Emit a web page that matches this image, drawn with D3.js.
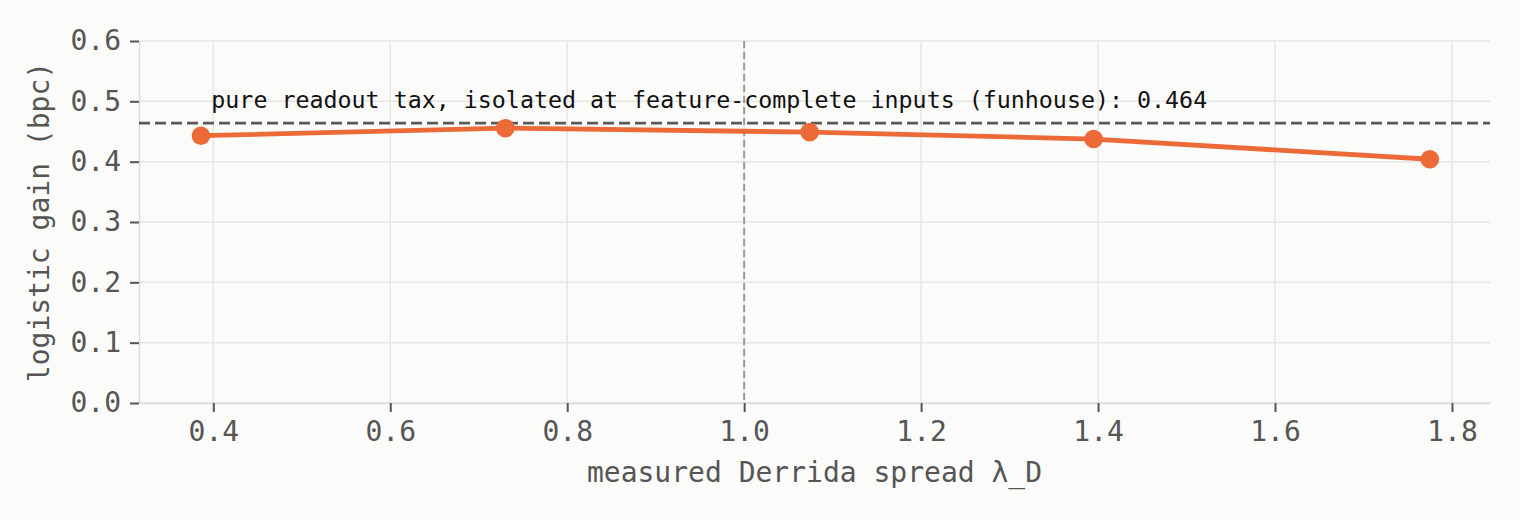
<!DOCTYPE html>
<html>
<head>
<meta charset="utf-8">
<script src="https://cdn.jsdelivr.net/npm/d3@7"></script>
<style>
  html, body { margin: 0; padding: 0; background: #fbfbf9; }
  svg { display: block; font-family: "DejaVu Sans Mono", monospace; }
</style>
</head>
<body>
<div id="chart"></div>
<script>
// data
var spread = [0.386, 0.730, 1.074, 1.395, 1.775];
var gain = [0.443, 0.4555, 0.449, 0.4375, 0.404];
var readoutTax = 0.464;
var criticalSpread = 1.0;
var xTicks = [0.4, 0.6, 0.8, 1.0, 1.2, 1.4, 1.6, 1.8];
var yTicks = [0.0, 0.1, 0.2, 0.3, 0.4, 0.5, 0.6];
var annotationText = "pure readout tax, isolated at feature-complete inputs (funhouse): 0.464";

// svg container
var svgWidth = 1520;
var svgHeight = 520;

var margin = { top: 41, right: 30, bottom: 117, left: 139 };

var chartWidth = svgWidth - margin.left - margin.right;
var chartHeight = svgHeight - margin.top - margin.bottom;

var svg = d3.select("#chart")
            .append("svg")
            .attr("width", svgWidth)
            .attr("height", svgHeight);

svg.append("rect")
   .attr("width", svgWidth)
   .attr("height", svgHeight)
   .attr("fill", "#fbfbf9");

var chartGroup = svg.append("g")
                    .attr("transform", `translate(${margin.left}, ${margin.top})`);

// scales
var xScale = d3.scaleLinear()
               .domain([0.316, 1.843])
               .range([0, chartWidth]);

var yScale = d3.scaleLinear()
               .domain([0, 0.6])
               .range([chartHeight, 0]);

// grid
chartGroup.append("g")
          .selectAll("line")
          .data(yTicks)
          .enter()
          .append("line")
          .attr("x1", 0)
          .attr("x2", chartWidth)
          .attr("y1", d => yScale(d))
          .attr("y2", d => yScale(d))
          .attr("stroke", "#e6e6e4")
          .attr("stroke-width", 1.5);

chartGroup.append("g")
          .selectAll("line")
          .data(xTicks)
          .enter()
          .append("line")
          .attr("x1", d => xScale(d))
          .attr("x2", d => xScale(d))
          .attr("y1", 0)
          .attr("y2", chartHeight)
          .attr("stroke", "#e6e6e4")
          .attr("stroke-width", 1.5);

// axes
var xAxis = d3.axisBottom(xScale)
              .tickValues(xTicks)
              .tickFormat(d3.format(".1f"))
              .tickSizeInner(9)
              .tickSizeOuter(0)
              .tickPadding(9);

var yAxis = d3.axisLeft(yScale)
              .tickValues(yTicks)
              .tickFormat(d3.format(".1f"))
              .tickSizeInner(9)
              .tickSizeOuter(0)
              .tickPadding(9);

var gx = chartGroup.append("g")
                   .attr("transform", `translate(0, ${chartHeight})`)
                   .call(xAxis);

var gy = chartGroup.append("g")
                   .call(yAxis);

[gx, gy].forEach(function(g) {
  g.select(".domain").attr("stroke", "#dcdcda").attr("stroke-width", 1.5);
  g.selectAll(".tick line").attr("stroke", "#555").attr("stroke-width", 2);
  g.selectAll(".tick text")
   .attr("fill", "#555")
   .style("font-family", "'DejaVu Sans Mono', monospace")
   .style("font-size", "28px");
});

// reference lines
chartGroup.append("line")
          .attr("x1", xScale(criticalSpread))
          .attr("x2", xScale(criticalSpread))
          .attr("y1", 0)
          .attr("y2", chartHeight)
          .attr("stroke", "#999")
          .attr("stroke-width", 2)
          .attr("stroke-dasharray", "7,4");

chartGroup.append("line")
          .attr("x1", 0)
          .attr("x2", chartWidth)
          .attr("y1", yScale(readoutTax))
          .attr("y2", yScale(readoutTax))
          .attr("stroke", "#5a5a5a")
          .attr("stroke-width", 2.8)
          .attr("stroke-dasharray", "11,5");

chartGroup.append("text")
          .attr("x", xScale(0.4) - 2)
          .attr("y", yScale(readoutTax) - 15)
          .attr("fill", "#111")
          .style("font-size", "23.3px")
          .text(annotationText);

// series
var line = d3.line()
             .x((d, i) => xScale(spread[i]))
             .y(d => yScale(d));

chartGroup.append("path")
          .datum(gain)
          .attr("d", line)
          .attr("fill", "none")
          .attr("stroke", "#ec6a37")
          .attr("stroke-width", 4.8)
          .attr("stroke-linejoin", "round");

chartGroup.selectAll(".dot")
          .data(gain)
          .enter()
          .append("circle")
          .classed("dot", true)
          .attr("cx", (d, i) => xScale(spread[i]))
          .attr("cy", d => yScale(d))
          .attr("r", 9.3)
          .attr("fill", "#ec6a37");

// axis labels
svg.append("text")
   .attr("x", margin.left + chartWidth / 2)
   .attr("y", 482)
   .attr("text-anchor", "middle")
   .attr("fill", "#555")
   .style("font-size", "28px")
   .text("measured Derrida spread λ_D");

svg.append("text")
   .attr("transform", `translate(49, ${margin.top + chartHeight / 2}) rotate(-90)`)
   .attr("text-anchor", "middle")
   .attr("fill", "#555")
   .style("font-size", "28px")
   .text("logistic gain (bpc)");
</script>
</body>
</html>
